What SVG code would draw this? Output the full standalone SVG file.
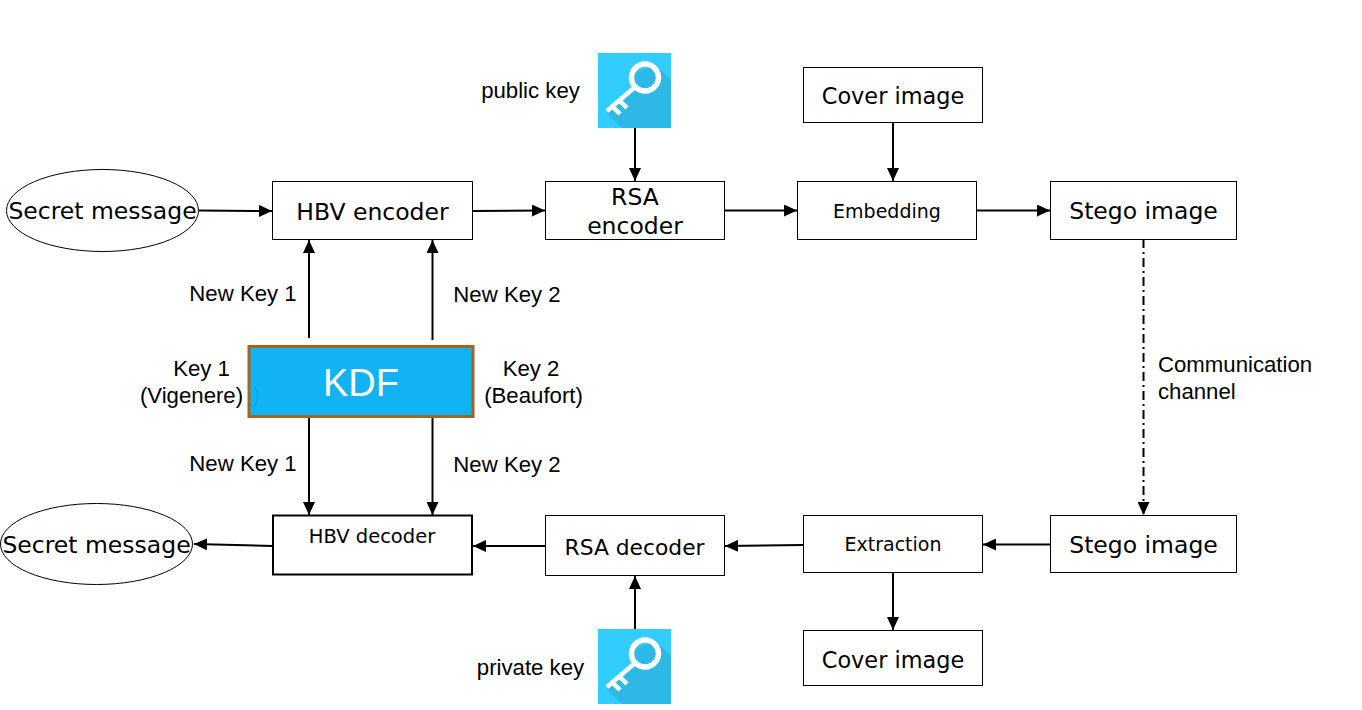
<svg xmlns="http://www.w3.org/2000/svg" width="1362" height="710" viewBox="0 0 1362 710">
<style>
.box{fill:#fff;stroke:#000;stroke-width:1}
.thick{fill:#fff;stroke:#000;stroke-width:2}
.t{font-family:"DejaVu Sans",sans-serif;fill:#000;text-anchor:middle}
.l{font-family:"Liberation Sans",Arial,sans-serif;font-size:22.2px;fill:#000;text-anchor:middle}
.big{font-size:23.5px}
.cov{font-size:22.4px}
.rsa{font-size:21.8px}
.mid{font-size:19px}
.c{fill:none;stroke:#000;stroke-width:2;marker-end:url(#a)}
.kb{fill:#33ccff}
.ks{fill:#2eb8e6}
.kw{fill:none;stroke:#fff;stroke-linecap:butt}
</style>
<defs>
<marker id="a" markerUnits="userSpaceOnUse" markerWidth="14" markerHeight="12" refX="13" refY="6" orient="auto"><path d="M0 0L13 6L0 12z" fill="#000"/></marker>
<g id="key">
<rect class="kb" width="73" height="75"/>
<path class="ks" d="M9 60L36 38L36 20L58 12L73 27V75H24z"/>
<circle class="kw" cx="47" cy="24.500" r="13.500" stroke-width="5.500"/>
<path class="kw" d="M37 34L9 58M15 54L22 61M22 48L29 55" stroke-width="4.500"/>
</g>
</defs>
<g id="connectors">
<path class="c" d="M199 210.500L272 211"/>
<path class="c" d="M473 211L545 210.500"/>
<path class="c" d="M725 210.500L797 210.500"/>
<path class="c" d="M977 210.500L1050 210.500"/>
<path class="c" d="M635 128V181"/>
<path class="c" d="M893 122V181"/>
<path class="c" d="M309 338V240"/>
<path class="c" d="M432.500 340V240"/>
<path class="c" d="M309 417V515"/>
<path class="c" d="M432.500 417V515"/>
<path class="c" d="M1143.500 239V515" stroke-dasharray="9 4 2 4"/>
<path class="c" d="M1050 544.500H983"/>
<path class="c" d="M803 545L725 546"/>
<path class="c" d="M545 546H473"/>
<path class="c" d="M273 546L194 544"/>
<path class="c" d="M893 573V630"/>
<path class="c" d="M635 629V576"/>
</g>
<g id="secret-top"><ellipse class="box" cx="102.500" cy="210.500" rx="96" ry="41"/><text class="t big" x="102.500" y="219">Secret message</text></g>
<g id="hbv-encoder"><rect class="box" x="272.500" y="181.500" width="200" height="58"/><text class="t big" x="372.500" y="220">HBV encoder</text></g>
<g id="rsa-encoder"><rect class="box" x="545.500" y="181.500" width="179" height="58"/><text class="t big" x="635" y="205">RSA</text><text class="t big" x="635" y="234">encoder</text></g>
<g id="embedding"><rect class="box" x="797.500" y="181.500" width="179" height="58"/><text class="t mid" x="887" y="217.500">Embedding</text></g>
<g id="stego-top"><rect class="box" x="1050.500" y="181.500" width="186" height="58"/><text class="t big" x="1143.500" y="219">Stego image</text></g>
<g id="cover-top"><rect class="box" x="803.500" y="67.500" width="179" height="55"/><text class="t cov" x="893" y="103.500">Cover image</text></g>
<g id="public-key"><use href="#key" x="598" y="53"/><text class="l" x="530.500" y="98">public key</text></g>
<g id="kdf"><rect x="249" y="346.500" width="224" height="70" fill="#12b3f4" stroke="#a5641c" stroke-width="3"/><path d="M255 387Q260 396 255 407" fill="none" stroke="#0ea5de" stroke-width="1.500"/><text x="361" y="396" font-family="'Liberation Sans',Arial,sans-serif" font-size="38" fill="#fff" text-anchor="middle">KDF</text></g>
<g id="labels">
<text class="l" x="243" y="301">New Key 1</text>
<text class="l" x="507" y="302">New Key 2</text>
<text class="l" x="243" y="471">New Key 1</text>
<text class="l" x="507" y="472">New Key 2</text>
<text class="l" x="201.500" y="376">Key 1</text>
<text class="l" x="191.500" y="403">(Vigenere)</text>
<text class="l" x="531" y="376">Key 2</text>
<text class="l" x="533.500" y="403">(Beaufort)</text>
<text class="l" style="text-anchor:start" x="1158" y="372">Communication</text>
<text class="l" style="text-anchor:start" x="1158" y="399">channel</text>
</g>
<g id="stego-bottom"><rect class="box" x="1050.500" y="515.500" width="186" height="57"/><text class="t big" x="1143.500" y="553">Stego image</text></g>
<g id="extraction"><rect class="box" x="803.500" y="515.500" width="179" height="57"/><text class="t mid" x="893" y="551">Extraction</text></g>
<g id="cover-bottom"><rect class="box" x="803.500" y="630.500" width="179" height="55"/><text class="t cov" x="893" y="667.500">Cover image</text></g>
<g id="rsa-decoder"><rect class="box" x="545.500" y="515.500" width="179" height="60"/><text class="t rsa" x="634.500" y="555">RSA decoder</text></g>
<g id="hbv-decoder"><rect class="thick" x="273" y="515.500" width="199" height="59"/><text class="t mid" style="font-size:19.500px" x="372" y="543">HBV decoder</text></g>
<g id="secret-bottom"><ellipse class="box" cx="96.500" cy="544" rx="96" ry="40.500"/><text class="t big" x="96.500" y="553">Secret message</text></g>
<g id="private-key"><use href="#key" x="598" y="629"/><text class="l" x="530.500" y="675">private key</text></g>
</svg>
